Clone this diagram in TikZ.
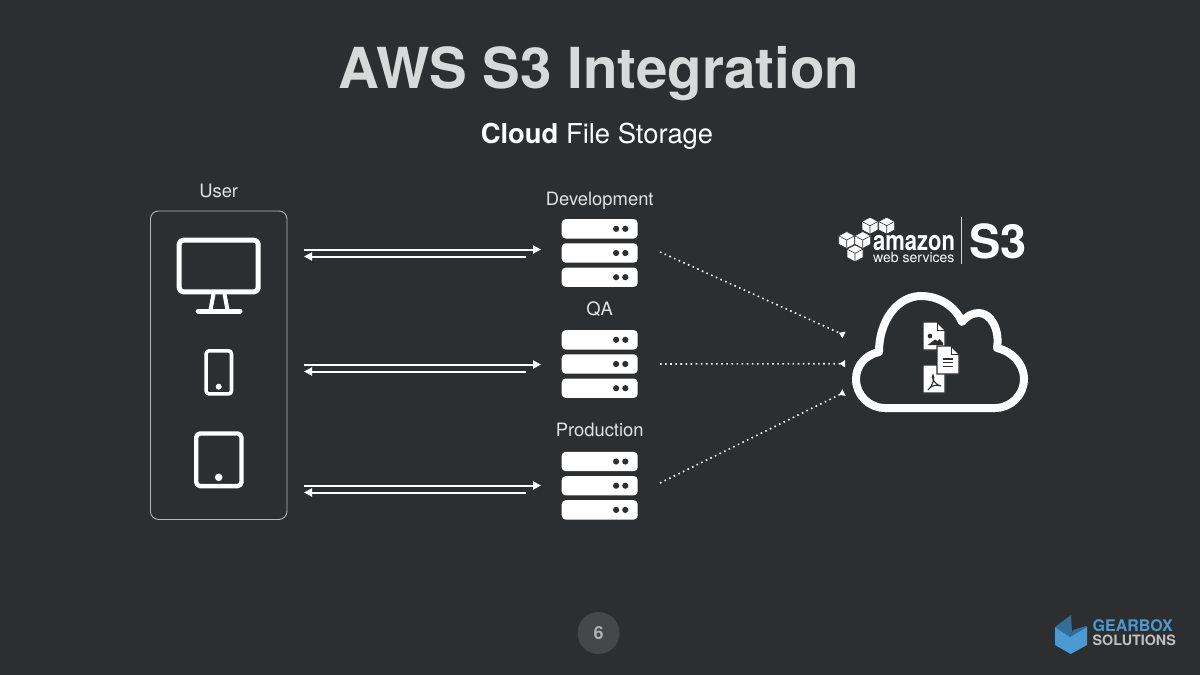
\documentclass[tikz,border=0pt]{standalone}
\usepackage{fontspec}
\setmainfont{TeX Gyre Heros}
\usetikzlibrary{positioning,arrows.meta}
\definecolor{slide}{HTML}{2D2E30}
\definecolor{titlegray}{HTML}{D8D9D9}
\definecolor{labelgray}{HTML}{E2E2E2}
\definecolor{gearlight}{HTML}{4A9BD4}
\definecolor{geardark}{HTML}{2F6F98}
\newcommand{\px}[1]{\fontsize{#1}{#1}\selectfont}

\begin{document}
\begin{tikzpicture}[
        x=1pt, y=-1pt,
        node distance=4.4pt,
        label/.style={text=labelgray, inner sep=0pt, font=\px{18.4}},
        row/.style={rectangle, fill=white, rounded corners=4pt, minimum width=76pt, minimum height=19.4pt, inner sep=0pt},
        led/.style={circle, fill=slide, minimum size=6.2pt, inner sep=0pt},
        arrow/.style={-{Triangle[length=8pt,width=8pt]}, white, line width=2pt},
        link/.style={-{Triangle[reversed,length=5.5pt,width=7pt]}, white, line width=1.6pt, dash pattern=on 1.6pt off 3.5pt},
        gadget/.style={draw=white, line join=round}
    ]
    \useasboundingbox (0,0) rectangle (1200,675);
    \fill[slide] (0,0) rectangle (1200,675);

    % Title
    \node[text=titlegray, font=\bfseries\px{56.5}, inner sep=0pt, anchor=base] (title) at (599,88) {AWS S3 Integration};
    \node[text=white, font=\px{27.4}, inner sep=0pt, anchor=base] (subtitle) at (597,143) {\textbf{Cloud} File Storage};

    % User devices
    \node[draw=white!65!slide, line width=0.9pt, rounded corners=8pt, minimum width=136.5pt, minimum height=308.5pt, inner sep=0pt] (user) at (218.7,365.2) {};
    \node[label, above=12pt of user.north] (userlabel) {User};
    \draw[gadget, line width=5pt, rounded corners=4pt] (179.2,240.2) rectangle (258.2,291.8);
    \draw[gadget, line width=4pt] (213.5,294) -- (210.5,310) (224.5,294) -- (227.5,310);
    \draw[gadget, line width=5pt, line cap=round] (198.2,311) -- (240,311);
    \draw[gadget, line width=3.6pt, rounded corners=3pt] (206.1,350.8) rectangle (231.5,393.9);
    \fill[white] (218.7,386.7) circle (3pt);
    \draw[gadget, line width=4.4pt, rounded corners=4pt] (196.2,433.5) rectangle (241.5,486.1);
    \fill[white] (218.7,477.3) circle (3.8pt);

    % Development servers
    \node[row] (dev1) at (599.7,228.8) {};
    \node[row, below=of dev1] (dev2) {};
    \node[row, below=of dev2] (dev3) {};
    \node[label, above=9pt of dev1] (devlabel) {Development};

    % QA servers
    \node[row] (qa1) at (599.7,339.8) {};
    \node[row, below=of qa1] (qa2) {};
    \node[row, below=of qa2] (qa3) {};
    \node[label, above=13pt of qa1] (qalabel) {QA};

    % Production servers
    \node[row] (prod1) at (599.7,461.5) {};
    \node[row, below=of prod1] (prod2) {};
    \node[row, below=of prod2] (prod3) {};
    \node[label, above=15pt of prod1] (prodlabel) {Production};

    \foreach \s in {dev1,dev2,dev3,qa1,qa2,qa3,prod1,prod2,prod3} {
        \node[led] at ([xshift=16.4pt]\s.center) {};
        \node[led] at ([xshift=25.6pt]\s.center) {};
    }

    % Arrows between the devices and the servers
    \foreach \s/\y in {dev/249.5, qa/364.5, prod/485.5} {
        \coordinate (\s out) at (304,\y);
        \coordinate (\s in) at (541,\y);
        \coordinate (\s back) at (526,\y+7);
        \coordinate (\s front) at (304,\y+7);
        \draw[arrow] (\s out) -- (\s in);
        \draw[arrow] (\s back) -- (\s front);
    }

    % Cloud
    \draw[white, line width=8pt, line join=round] (885,408)
        .. controls (869,408) and (856,395) .. (856,379)
        .. controls (856,366) and (865,355) .. (879,352)
        .. controls (879,320) and (898,296) .. (921,296)
        .. controls (939,296) and (955,306) .. (962,322)
        .. controls (967,316) and (972,313) .. (979,313)
        .. controls (991,313) and (1000,330) .. (997,348)
        .. controls (1011,351) and (1024,363) .. (1024,379)
        .. controls (1024,395) and (1011,408) .. (995,408) -- cycle;
    \coordinate (cloudtop) at (844,335);
    \coordinate (cloudmid) at (845,363.7);
    \coordinate (cloudlow) at (844,392.5);

    % Files in the cloud
    \foreach \x/\y in {923/322, 923/365, 937/346} {
        \filldraw[fill=white, draw=slide, line width=1.2pt] (\x,\y) -- ++(14,0) -- ++(8,8) -- ++(0,20) -- ++(-22,0) -- cycle;
        \draw[slide, line width=0.7pt] (\x+14,\y) -- ++(0,8) -- ++(8,0);
    }
    \fill[slide] (930,336) circle (2.3pt);
    \fill[slide] (927.7,345) -- (935,339.5) -- (937.5,341) -- (939.5,339) -- (943,343) -- (943,345) -- cycle;
    \draw[slide, line width=1.3pt] (943,359) -- (953,359) (943,362.7) -- (953,362.7) (943,366.5) -- (953,366.5);
    \draw[slide, line width=1.1pt] (928,390) .. controls (933,386) and (935,377) .. (933,375) .. controls (931,376) and (933,384) .. (941,386) .. controls (935,384) and (931,386) .. (928,390);

    % Dotted links to the cloud
    \draw[link] (660,252) -- (cloudtop);
    \draw[link] (660,364) -- (cloudmid);
    \draw[link] (660,483) -- (cloudlow);

    % AWS S3 logo
    \foreach \x/\y in {870/225.7, 886.7/225.7, 846.7/240, 862.7/240, 855/253.3} {
        \filldraw[fill=white, draw=slide, line width=0.6pt, line join=round] (\x,\y-8.4) -- ++(8,4.2) -- ++(0,8.4) -- ++(-8,4.2) -- ++(-8,-4.2) -- ++(0,-8.4) -- cycle;
        \draw[slide, line width=0.6pt] (\x-8,\y-4.2) -- (\x,\y) -- (\x+8,\y-4.2) (\x,\y) -- (\x,\y+8.4);
    }
    \node[text=white, font=\bfseries\px{22}, inner sep=0pt, anchor=base west, yscale=1.25] (amazon) at (873,250) {amazon};
    \node[text=white, font=\px{14}, inner sep=0pt, anchor=base west] (webservices) at (873,262) {web services};
    \draw[white!80!slide, line width=0.8pt] (961.7,217) -- (961.7,264);
    \node[text=white, font=\bfseries\px{47}, inner sep=0pt, anchor=base west] (sthree) at (969,258) {S3};

    % Page number
    \node[circle, fill=white!12!slide, minimum size=42pt, inner sep=0pt, text=white!62!slide, font=\bfseries\px{18}] (page) at (598.5,633) {6};

    % Gearbox logo
    \fill[geardark] (1055,627) -- (1071,615) -- (1072,632) -- (1070,637) -- cycle;
    \fill[geardark] (1073,630) -- (1086,626) -- (1087,627) -- (1070,637) -- cycle;
    \fill[gearlight] (1055,627) -- (1070,637) -- (1087,627) -- (1087,645) -- (1070.7,654) -- (1055,645) -- cycle;
    \node[text=gearlight, font=\bfseries\px{16}, inner sep=0pt, anchor=base west] (gearbox) at (1092.5,631) {GEARBOX};
    \node[text=white!70!slide, font=\bfseries\px{14.3}, inner sep=0pt, anchor=base west] (solutions) at (1092.5,645.7) {SOLUTIONS};
\end{tikzpicture}
\end{document}
